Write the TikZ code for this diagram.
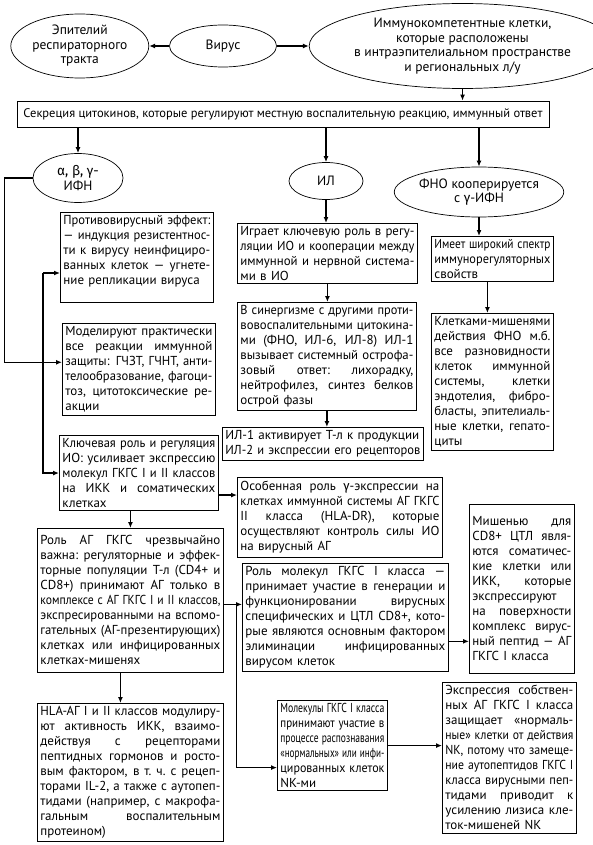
\documentclass[tikz,border=0pt]{standalone}
\usepackage{graphicx}
\usepackage{fontspec}
\setmainfont{PT Sans}
\newfontfamily\grkfont{Fira Sans}
\newcommand{\grk}[1]{{\grkfont #1}}
\usetikzlibrary{arrows.meta, positioning, shapes.geometric}

% one line of a justified box: squeezed when it is too long
\newsavebox{\rowbox}
\newcommand{\jrow}[1]{\sbox{\rowbox}{#1}\leavevmode
  \ifdim\wd\rowbox>\linewidth
    \hbox to\linewidth{\resizebox{\linewidth}{\height}{\usebox{\rowbox}}}%
  \else
    \hbox to\linewidth{\spaceskip=.25em plus 1fil\xspaceskip=\spaceskip #1}%
  \fi\par}
% last (ragged) line
\newcommand{\lrow}[1]{\sbox{\rowbox}{#1}\leavevmode
  \ifdim\wd\rowbox>\linewidth
    \hbox to\linewidth{\resizebox{\linewidth}{\height}{\usebox{\rowbox}}}%
  \else
    \hbox to\linewidth{#1\hfil}%
  \fi\par}

\begin{document}
\begin{tikzpicture}[
  x=1pt, y=-1pt,
  every node/.style={font=\fontsize{13}{15}\selectfont},
  oval/.style={draw, ellipse, line width=0.7pt, inner sep=0pt, align=center, font=\fontsize{13.5}{14.5}\selectfont},
  block/.style={draw, line width=0.8pt, inner xsep=3pt, inner ysep=3pt, anchor=north west},
  line/.style={-{Latex[length=6pt,width=5pt]}, line width=1.2pt}
]
\useasboundingbox (0,0) rectangle (592,845);

% top row
\node[oval, minimum width=107pt, minimum height=42pt] (virus) at (223,46) {Вирус};
\node[oval, minimum width=138pt, minimum height=64pt, left=20pt of virus] (epi) {Эпителий\\респираторного\\тракта};
\node[oval, minimum width=263pt, minimum height=85pt, right=32pt of virus] (icc) {Иммунокомпетентные клетки,\\которые расположены\\в интраэпителиальном пространстве\\и региональных л/у};

\node[draw, line width=0.8pt, minimum width=532pt, minimum height=26pt, font=\fontsize{12.5}{15}\selectfont] (secr) at (283,114) {Секреция цитокинов, которые регулируют местную воспалительную реакцию, иммунный ответ};

% cytokine groups
\node[oval, minimum width=90pt, minimum height=49pt] (ifn) at (78,178) {\grk{α, β, γ-}\\ИФН};
\node[oval, minimum width=74pt, minimum height=37pt] (il) at (326,181) {ИЛ};
\node[oval, minimum width=168pt, minimum height=50pt] (tnf) at (479,192) {ФНО кооперируется\\с \grk{γ}-ИФН};

% left column
\node[block, text width=147pt] (anti) at (60,212) {\jrow{Противовирусный эффект:}
  \jrow{— индукция резистентнос-}\jrow{ти к вирусу неинфициро-}
  \jrow{ванных клеток — угнете-}\lrow{ние репликации вируса}\lrow{}};
\node[block, text width=147pt] (model) at (62,323) {\jrow{Моделируют практически}
  \jrow{все реакции иммунной}\jrow{защиты: ГЧЗТ, ГЧНТ, анти-}
  \jrow{телообразование, фагоци-}\jrow{тоз, цитотоксические ре-}\lrow{акции}};
\node[block, text width=153pt] (key) at (59,435) {\jrow{Ключевая роль и регуляция}
  \jrow{ИО: усиливает экспрессию}\jrow{молекул ГКГС I и II классов}
  \jrow{на ИКК и соматических}\lrow{клетках}};
\node[block, text width=180pt, minimum height=144pt] (role) at (37,528) {\jrow{Роль АГ ГКГС чрезвычайно}
  \jrow{важна: регуляторные и эффек-}\jrow{торные популяции Т-л (CD4+ и}
  \jrow{CD8+) принимают АГ только в}\jrow{комплексе с АГ ГКГС I и II классов,}
  \jrow{экспресированными на вспомо-}\jrow{гательных (АГ-презентирующих)}
  \jrow{клетках или инфицированных}\lrow{клетках-мишенях}};
\node[block, text width=180pt] (hla) at (37,703) {\jrow{HLA-АГ I и II классов модулиру-}
  \jrow{ют активность ИКК, взаимо-}\jrow{действуя с рецепторами}
  \jrow{пептидных гормонов и росто-}\jrow{вым фактором, в т. ч. с рецеп-}
  \jrow{торами IL-2, а также с аутопеп-}\jrow{тидами (например, с макрофа-}
  \jrow{гальным воспалительным}\lrow{протеином)}};

% middle column
\node[block, text width=174pt] (play) at (237,223) {\jrow{Играет ключевую роль в регу-}
  \jrow{ляции ИО и кооперации между}\jrow{иммунной и нервной система-}\lrow{ми в ИО}};
\node[block, text width=173pt] (syn) at (237,302) {\jrow{В синергизме с другими проти-}
  \jrow{вовоспалительными цитокина-}\jrow{ми (ФНО, ИЛ-6, ИЛ-8) ИЛ-1}
  \jrow{вызывает системный острофа-}\jrow{зовый ответ: лихорадку,}
  \jrow{нейтрофилез, синтез белков}\lrow{острой фазы}};
\node[block, text width=195pt] (il1) at (222,427) {\lrow{ИЛ-1 активирует Т-л к продукции}
  \lrow{ИЛ-2 и экспрессии его рецепторов}};
\node[block, text width=199pt, minimum height=80pt] (spec) at (237,477) {\jrow{Особенная роль \grk{γ}-экспрессии на}
  \jrow{клетках иммунной системы АГ ГКГС}\jrow{II класса (HLA-DR), которые}
  \jrow{осуществляют контроль силы ИО}\lrow{на вирусный АГ}};
\node[block, text width=200pt] (mhc1) at (242,563) {\jrow{Роль молекул ГКГС I класса —}
  \jrow{принимает участие в генерации и}\jrow{функционировании вирусных}
  \jrow{специфических и ЦТЛ CD8+, кото-}\jrow{рые являются основным фактором}
  \jrow{элиминации инфицированных}\lrow{вирусом клеток}};
\node[block, text width=104pt] (nk) at (277,700) {\jrow{Молекулы ГКГС I класса}
  \jrow{принимают участие в}\jrow{процессе распознавания}
  \jrow{«нормальных» или инфи-}\jrow{цированных клеток}\lrow{NK-ми}};

% right column
\node[block, text width=116pt] (broad) at (431,236) {\lrow{Имеет широкий спектр}
  \lrow{иммунорегуляторных}\lrow{свойств}};
\node[block, text width=116pt] (targ) at (431,313) {\jrow{Клетками-мишенями}
  \jrow{действия ФНО м.б.}\jrow{все разновидности}\jrow{клеток иммунной}
  \jrow{системы, клетки}\jrow{эндотелия, фибро-}\jrow{бласты, эпителиаль-}
  \jrow{ные клетки, гепато-}\lrow{циты}};
\node[block, text width=99pt, minimum height=169pt] (cd8) at (469,504) {\jrow{Мишенью для}
  \jrow{CD8+ ЦТЛ явля-}\jrow{ются соматичес-}\jrow{кие клетки или}
  \jrow{ИКК, которые}\jrow{экспрессируют}\jrow{на поверхности}
  \jrow{комплекс вирус-}\jrow{ный пептид — АГ}\lrow{ГКГС I класса}};
\node[block, text width=128pt] (expr) at (442,682) {\jrow{Экспрессия собствен-}
  \jrow{ных АГ ГКГС I класса}\jrow{защищает «нормаль-}\jrow{ные» клетки от действия}
  \jrow{NK, потому что замеще-}\jrow{ние аутопептидов ГКГС I}
  \jrow{класса вирусными пеп-}\jrow{тидами приводит к}
  \jrow{усилению лизиса кле-}\lrow{ток-мишеней NK}};

% arrows
\draw[line] (virus) -- (epi);
\draw[line] (virus) -- (icc);
\draw[line] (icc.south) -- (icc.south |- secr.north);
\draw[line] (ifn |- secr.south) -- (ifn);
\draw[line] (il |- secr.south) -- (il);
\draw[line] (tnf |- secr.south) -- (tnf);

\draw[line] (ifn.west) -- ++(-28pt,0) |- ([yshift=7pt]model.west);
\coordinate (bus) at (43,273);
\draw[line] (bus) -- (bus -| anti.west);
\draw[line] (bus) |- (key.west);
\draw[line] ([yshift=-22pt]key.east) -- ([yshift=-22pt]key.east -| spec.west);
\draw[line] (key.south -| role.north) -- (role.north);
\draw[line] ([xshift=-10pt]role.south) -- ([xshift=-10pt]role.south |- hla.north);
\draw[line] ([yshift=-4pt]role.east) -- ([yshift=-4pt]role.east -| mhc1.west);
\draw[line] ([xshift=13pt,yshift=-4pt]role.east) |- ([yshift=-22pt]nk.west);

\draw[line] (il) -- (il |- play.north);
\draw[line] (play) -- (play |- syn.north);
\draw[line] (syn) -- (syn |- il1.north);
\draw[line] (tnf) -- (tnf |- broad.north);
\draw[line] ([xshift=-5pt]broad.south) -- ([xshift=-5pt]broad.south |- targ.north);
\draw[line] ([yshift=-24pt]mhc1.east) -- ([yshift=-24pt]mhc1.east -| cd8.west);
\draw[line] (nk.east) -- (nk.east -| expr.west);
\end{tikzpicture}
\end{document}
